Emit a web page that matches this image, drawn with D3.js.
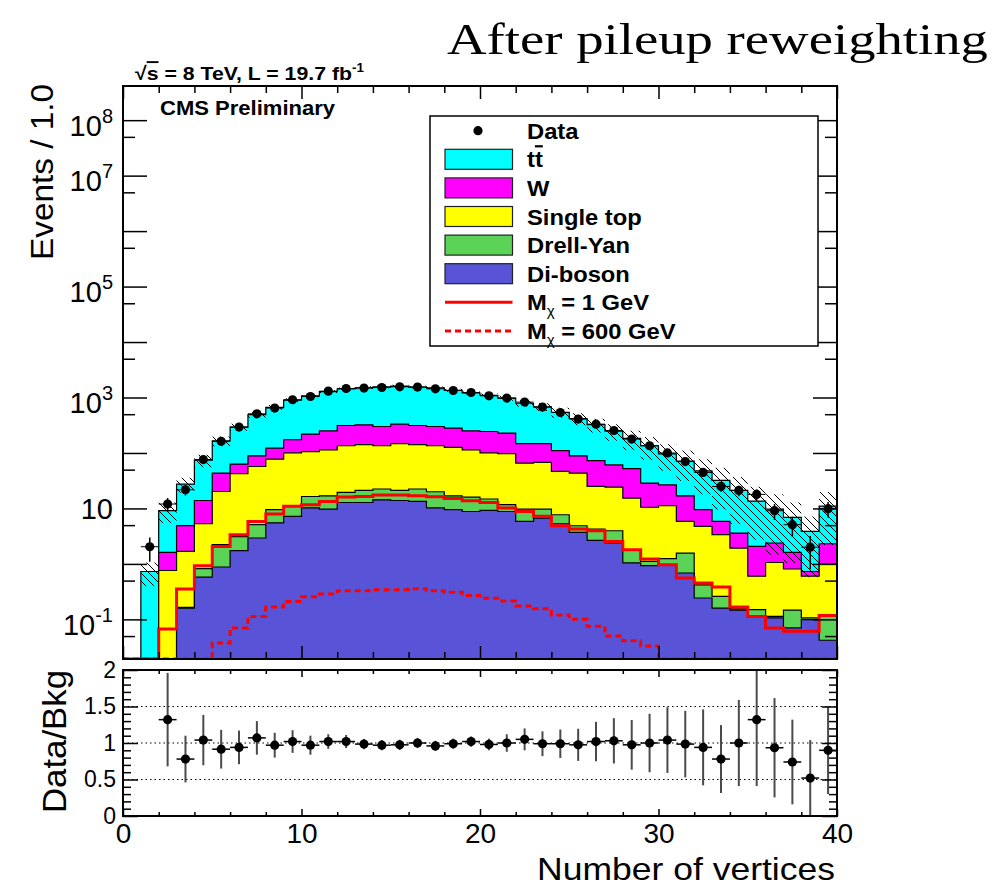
<!DOCTYPE html>
<html lang="en">
<head>
    <meta charset="UTF-8">
    <title>Number of vertices after pileup reweighting</title>
    <script src="https://d3js.org/d3.v7.min.js"></script>
    <style>
        html, body { margin: 0; background: #fff; }
        svg { display: block; }
        text { font-family: "Liberation Sans", Arial, Helvetica, sans-serif; }
    </style>
</head>
<body>
<div id="vis"></div>
<script>
    // lower edges of the 40 bins (bin width 1.0)
    var binLow = [0, 1, 2, 3, 4, 5, 6, 7, 8, 9, 10, 11, 12, 13, 14, 15, 16, 17, 18, 19,
                  20, 21, 22, 23, 24, 25, 26, 27, 28, 29, 30, 31, 32, 33, 34, 35, 36, 37, 38, 39];

    // stacked backgrounds, events per bin
    var ttbar     = [0, 0.73, 7.49, 22.6, 60.1, 121.6, 230, 401, 543, 727, 855, 1026, 1111, 1178, 1262, 1269, 1227, 1195, 1069, 955,
                     851, 747, 640, 531, 432, 329, 252, 186, 131, 106.4, 69.3, 54.1, 37.9, 26.16, 17.5, 11.53, 7.32, 5.29, 3.12, 8.69];
    var wjets     = [0, 0, 0.85, 3.2, 8.6, 23.2, 20.8, 32, 44.4, 73, 113, 137, 178, 181, 165, 184, 172, 165, 155, 137,
                     144, 131, 81.2, 79.5, 63.5, 45.6, 48.1, 36.7, 36.6, 18.1, 15.5, 11.06, 4.76, 2.48, 1.67, 1.47, 1.32, 0.8, 0.13, 1.31];
    var singleTop = [0, 0, 0.76, 1.52, 4.48, 18.0, 39.1, 51.9, 68.1, 88.8, 89.6, 97.1, 115.6, 119.9, 112.6, 125.9, 118.6, 115, 109.1, 98,
                     85.2, 85.3, 56.05, 57.75, 38.8, 38.53, 20.65, 20.34, 13.6, 9.39, 9.95, 4.27, 4.32, 3.1, 1.776, 0.45, 0.947, 0.663, 0.494, 0.883];
    var drellYan  = [0, 0, 0, 0.005, 0.24, 1.34, 1.37, 2.17, 4.0, 4.0, 6.2, 7.15, 6.6, 8.3, 8.1, 7.2, 9.0, 9.8, 7.4, 7.2,
                     5.6, 2.9, 3.92, 3.05, 2.4, 1.17, 1.6, 1.58, 0.76, 0.18, 0.28, 0.885, 0.177, 0.1, 0.007, 0.037, 0.007, 0.077, 0.007, 0.075];
    var diboson   = [0, 0, 0, 0.16, 0.58, 0.88, 1.73, 2.93, 5.5, 7.2, 10.2, 9.75, 12.8, 12.8, 14.3, 13.9, 13.4, 10.2, 9.5, 8.8,
                     9.2, 8.8, 5.83, 6.7, 5.3, 3.7, 2.65, 2.38, 1.04, 0.93, 0.97, 0.685, 0.243, 0.16, 0.147, 0.113, 0.106, 0.070, 0.099, 0.042];
    // relative uncertainty of the background sum (hatched band)
    var bkgRelErr = [0, 0.45, 0.4, 0.3, 0.25, 0.2, 0.15, 0.12, 0.1, 0.08, 0.06, 0.06, 0.06, 0.06, 0.06, 0.06, 0.06, 0.06, 0.06, 0.06,
                     0.08, 0.1, 0.13, 0.16, 0.2, 0.24, 0.28, 0.33, 0.38, 0.44, 0.5, 0.56, 0.62, 0.7, 0.75, 0.8, 0.85, 0.85, 0.85, 0.8];

    var data    = [0, 2.04, 12.0, 21.7, 76, 162, 293, 508, 645, 910, 1042, 1303, 1452, 1477, 1515, 1560, 1540, 1435, 1337, 1230,
                   1073, 975, 826, 671, 537, 408, 331, 254, 178, 135, 100, 70, 44.6, 24.9, 21.1, 17.9, 9.1, 5.1, 2.0, 9.9];
    var dataErr = [0, 0.95, 3.4, 4.6, 8.7, 12.7, 17.1, 22.5, 25.4, 30.2, 32.3, 36.1, 38.1, 38.4, 38.9, 39.5, 39.2, 37.9, 36.6, 35.1,
                   32.8, 31.2, 28.7, 25.9, 23.2, 20.2, 18.2, 15.9, 13.3, 11.6, 10.0, 8.4, 6.7, 5.0, 4.6, 4.2, 2.9, 2.0, 1.2, 3.1];

    // signal shapes (not stacked)
    var sigM1   = [0, 0, 0.067, 0.353, 0.93, 2.07, 3.36, 5.8, 7.9, 10.9, 11.7, 13.4, 16.0, 16.4, 17.4, 17.4, 16.9, 16.2, 15.1, 13.8,
                   12.8, 10.2, 8.8, 7.2, 4.87, 4.25, 3.96, 2.54, 1.8, 1.22, 0.97, 0.557, 0.453, 0.384, 0.167, 0.113, 0.070, 0.061, 0.061, 0.117];
    var sigM600 = [0, 0, 0, 0, 0, 0.0376, 0.070, 0.113, 0.167, 0.211, 0.255, 0.287, 0.329, 0.329, 0.343, 0.343, 0.357, 0.329, 0.307, 0.27,
                   0.24, 0.215, 0.175, 0.155, 0.12, 0.1, 0.075, 0.05, 0.041, 0.033, 0, 0, 0, 0, 0, 0, 0, 0, 0, 0];

    // ratio panel
    var ratio    = [null, null, 1.32, 0.78, 1.04, 0.915, 0.94, 1.07, 0.97, 1.02, 0.97, 1.02, 1.02, 0.985, 0.97, 0.975, 1.0, 0.96, 0.99, 1.02,
                    0.98, 1.0, 1.05, 0.99, 0.99, 0.975, 1.02, 1.03, 0.975, 1.0, 1.04, 0.985, 0.94, 0.78, 1.0, 1.32, 0.935, 0.74, 0.52, 0.90];
    var ratioErr = [null, null, 0.64, 0.32, 0.345, 0.265, 0.23, 0.23, 0.17, 0.155, 0.13, 0.1, 0.09, 0.07, 0.07, 0.07, 0.07, 0.07, 0.07, 0.07,
                    0.08, 0.12, 0.15, 0.17, 0.195, 0.22, 0.27, 0.31, 0.34, 0.40, 0.45, 0.455, 0.52, 0.465, 0.59, 0.91, 0.68, 0.58, 0.52, 0.6];

    var xMajor = [0, 10, 20, 30, 40];
    var yDecades = [1e-1, 1, 1e1, 1e2, 1e3, 1e4, 1e5, 1e6, 1e7, 1e8];
    var yHalves  = [5e-2, 5e-1, 5, 5e1, 5e2, 5e3, 5e4, 5e5, 5e6, 5e7];
    var yLabelVals = [1e-1, 1e1, 1e3, 1e5, 1e7, 1e8];
    var yLabelExp  = ['-1', '', '3', '5', '7', '8'];
    var rMajor = [0, 0.5, 1, 1.5, 2];
    var rGrid  = [0.5, 1, 1.5];

    var legendItems = [
        {key: 'data',      label: 'Data'},
        {key: 'ttbar',     label: 'tt', color: '#00ffff'},
        {key: 'wjets',     label: 'W', color: '#ff00ff'},
        {key: 'singleTop', label: 'Single top', color: '#ffff00'},
        {key: 'drellYan',  label: 'Drell-Yan', color: '#5ad357'},
        {key: 'diboson',   label: 'Di-boson', color: '#5953d7'},
        {key: 'sigM1',     label: ' = 1 GeV'},
        {key: 'sigM600',   label: ' = 600 GeV'}
    ];
    var colorOf = {};
    legendItems.forEach(function(d){ if (d.color) colorOf[d.key] = d.color; });

    /*
     *  LAYOUT
     */
    var W = 996, H = 888;
    var frame  = {left: 123, right: 837, top: 86, bottom: 659};
    var rframe = {top: 670, bottom: 816};

    var svg = d3.select('#vis').append('svg')
        .attr('width', W)
        .attr('height', H);

    var x  = d3.scaleLinear().domain([0, 40]).range([frame.left, frame.right]);
    var y  = d3.scaleLog().domain([0.0193, 4.13e8]).range([frame.bottom, frame.top]);
    var yr = d3.scaleLinear().domain([0, 2]).range([rframe.bottom, rframe.top]);
    var yMin = y.domain()[0];
    function yc(v) { return y(Math.max(v, yMin)); }

    var defs = svg.append('defs');
    defs.append('clipPath').attr('id', 'clipTop')
        .append('rect')
        .attr('x', frame.left).attr('y', frame.top)
        .attr('width', frame.right - frame.left).attr('height', frame.bottom - frame.top);
    defs.append('clipPath').attr('id', 'clipBot')
        .append('rect')
        .attr('x', frame.left).attr('y', rframe.top)
        .attr('width', frame.right - frame.left).attr('height', rframe.bottom - rframe.top);
    var hatch = defs.append('pattern').attr('id', 'hatch')
        .attr('patternUnits', 'userSpaceOnUse')
        .attr('width', 8).attr('height', 8);
    hatch.append('path')
        .attr('d', 'M0,0 L8,8 M-2,6 L2,10 M6,-2 L10,2')
        .attr('stroke', '#000').attr('stroke-width', 1);

    function stepPoints(vals) {
        var pts = binLow.map(function(b, i){ return [b, vals[i]]; });
        pts.push([binLow[binLow.length - 1] + 1, vals[vals.length - 1]]);
        return pts;
    }
    var stepArea = d3.area().curve(d3.curveStepAfter)
        .x(function(d){ return x(d[0]); })
        .y0(frame.bottom)
        .y1(function(d){ return yc(d[1]); });
    var stepLine = d3.line().curve(d3.curveStepAfter)
        .x(function(d){ return x(d[0]); })
        .y(function(d){ return yc(d[1]); });

    /*
     *  UPPER PANEL
     */
    var plot = svg.append('g').attr('clip-path', 'url(#clipTop)');

    var keys = ['diboson', 'drellYan', 'singleTop', 'wjets', 'ttbar'];
    var series = {diboson: diboson, drellYan: drellYan, singleTop: singleTop, wjets: wjets, ttbar: ttbar};
    var rows = binLow.map(function(b, i){
        var r = {bin: b};
        keys.forEach(function(k){ r[k] = series[k][i]; });
        return r;
    });
    var stacked = d3.stack().keys(keys)(rows);

    // draw cumulative histograms from the largest down (ROOT THStack style)
    stacked.slice().reverse().forEach(function(layer){
        var tops = layer.map(function(d){ return d[1]; });
        plot.append('path')
            .attr('d', stepArea(stepPoints(tops)))
            .attr('fill', colorOf[layer.key])
            .attr('stroke', '#000')
            .attr('stroke-width', 1.2);
    });

    // uncertainty band on the sum
    var total = stacked[stacked.length - 1].map(function(d){ return d[1]; });
    var bandPts = binLow.map(function(b, i){ return [b, total[i] * (1 - bkgRelErr[i]), total[i] * (1 + bkgRelErr[i])]; });
    bandPts.push([40, bandPts[39][1], bandPts[39][2]]);
    plot.append('path')
        .attr('d', d3.area().curve(d3.curveStepAfter)
            .x(function(d){ return x(d[0]); })
            .y0(function(d){ return yc(d[1]); })
            .y1(function(d){ return yc(d[2]); })(bandPts))
        .attr('fill', 'url(#hatch)');

    // signals
    plot.append('path')
        .attr('d', stepLine(stepPoints(sigM1)))
        .attr('fill', 'none').attr('stroke', '#ff0000').attr('stroke-width', 3);
    plot.append('path')
        .attr('d', stepLine(stepPoints(sigM600)))
        .attr('fill', 'none').attr('stroke', '#ff0000').attr('stroke-width', 3)
        .attr('stroke-dasharray', '6,4');

    // data
    var pts = binLow.map(function(b, i){ return {b: b, v: data[i], e: dataErr[i]}; })
        .filter(function(d){ return d.v > 0; });
    var dg = plot.append('g');
    dg.selectAll('.xerr').data(pts).enter().append('line')
        .attr('x1', function(d){ return x(d.b); })
        .attr('x2', function(d){ return x(d.b + 1); })
        .attr('y1', function(d){ return y(d.v); })
        .attr('y2', function(d){ return y(d.v); })
        .attr('stroke', '#000').attr('stroke-width', 1);
    dg.selectAll('.yerr').data(pts).enter().append('line')
        .attr('x1', function(d){ return x(d.b + 0.5); })
        .attr('x2', function(d){ return x(d.b + 0.5); })
        .attr('y1', function(d){ return yc(d.v - d.e); })
        .attr('y2', function(d){ return yc(d.v + d.e); })
        .attr('stroke', '#000').attr('stroke-width', 1.5);
    dg.selectAll('circle').data(pts).enter().append('circle')
        .attr('cx', function(d){ return x(d.b + 0.5); })
        .attr('cy', function(d){ return y(d.v); })
        .attr('r', 4.6)
        .attr('fill', '#000');

    /*
     *  AXES (ticks point inwards, ROOT style)
     */
    function tickAxis(axis, tx, ty) {
        var g = svg.append('g').attr('transform', 'translate(' + tx + ',' + ty + ')').call(axis);
        g.select('.domain').remove();
        g.selectAll('text').remove();
        g.selectAll('line').attr('stroke', '#000').attr('stroke-width', 1.5);
        return g;
    }
    var xMinor = d3.range(0, 41, 2).filter(function(v){ return v % 10 !== 0; });

    tickAxis(d3.axisBottom(x).tickValues(xMajor).tickSize(-13), 0, frame.bottom);
    tickAxis(d3.axisBottom(x).tickValues(xMinor).tickSize(-7), 0, frame.bottom);
    tickAxis(d3.axisTop(x).tickValues(xMajor).tickSize(-13), 0, frame.top);
    tickAxis(d3.axisTop(x).tickValues(xMinor).tickSize(-7), 0, frame.top);
    tickAxis(d3.axisLeft(y).tickValues(yDecades).tickSize(-24), frame.left, 0);
    tickAxis(d3.axisLeft(y).tickValues(yHalves).tickSize(-12), frame.left, 0);
    tickAxis(d3.axisRight(y).tickValues(yDecades).tickSize(-24), frame.right, 0);
    tickAxis(d3.axisRight(y).tickValues(yHalves).tickSize(-12), frame.right, 0);

    var gyl = svg.append('g').attr('transform', 'translate(' + frame.left + ',0)')
        .call(d3.axisLeft(y).tickValues(yLabelVals).tickSize(0).tickPadding(10).tickFormat(''));
    gyl.select('.domain').remove();
    gyl.attr('font-family', null).attr('font-size', null);
    gyl.selectAll('.tick text').each(function(d, i){
        var t = d3.select(this).text(null).attr('font-size', 29).attr('fill', '#000');
        t.attr('dy', yLabelExp[i] ? 15 : 10);
        t.append('tspan').text('10');
        if (yLabelExp[i]) {
            t.append('tspan').attr('font-size', 20).attr('dy', -13).text(yLabelExp[i]);
        }
    });

    svg.append('rect')
        .attr('x', frame.left).attr('y', frame.top)
        .attr('width', frame.right - frame.left).attr('height', frame.bottom - frame.top)
        .attr('fill', 'none').attr('stroke', '#000').attr('stroke-width', 2);

    /*
     *  LOWER PANEL
     */
    var rp = svg.append('g');
    rGrid.forEach(function(v){
        rp.append('line')
            .attr('x1', frame.left).attr('x2', frame.right)
            .attr('y1', yr(v)).attr('y2', yr(v))
            .attr('stroke', '#000').attr('stroke-width', 1)
            .attr('stroke-dasharray', '1.5,3');
    });
    var rpts = binLow.map(function(b, i){ return {b: b, r: ratio[i], e: ratioErr[i]}; })
        .filter(function(d){ return d.r !== null; });
    var rg = rp.append('g').attr('clip-path', 'url(#clipBot)');
    rg.selectAll('.yerr').data(rpts).enter().append('line')
        .attr('x1', function(d){ return x(d.b + 0.5); })
        .attr('x2', function(d){ return x(d.b + 0.5); })
        .attr('y1', function(d){ return yr(d.r - d.e); })
        .attr('y2', function(d){ return yr(d.r + d.e); })
        .attr('stroke', '#4a4a4a').attr('stroke-width', 2);
    rg.selectAll('.xerr').data(rpts).enter().append('line')
        .attr('x1', function(d){ return x(d.b); })
        .attr('x2', function(d){ return x(d.b + 1); })
        .attr('y1', function(d){ return yr(d.r); })
        .attr('y2', function(d){ return yr(d.r); })
        .attr('stroke', '#000').attr('stroke-width', 1.5);
    rg.selectAll('circle').data(rpts).enter().append('circle')
        .attr('cx', function(d){ return x(d.b + 0.5); })
        .attr('cy', function(d){ return yr(d.r); })
        .attr('r', 4.6)
        .attr('fill', '#000');

    var rMinor = d3.range(0, 2.001, 0.1).filter(function(v){ return Math.abs(v * 2 - Math.round(v * 2)) > 1e-6; });
    tickAxis(d3.axisBottom(x).tickValues(xMajor).tickSize(-7), 0, rframe.bottom);
    tickAxis(d3.axisBottom(x).tickValues(xMinor).tickSize(-4), 0, rframe.bottom);
    tickAxis(d3.axisTop(x).tickValues(xMajor).tickSize(-7), 0, rframe.top);
    tickAxis(d3.axisTop(x).tickValues(xMinor).tickSize(-4), 0, rframe.top);
    tickAxis(d3.axisLeft(yr).tickValues(rMajor).tickSize(-15), frame.left, 0);
    tickAxis(d3.axisLeft(yr).tickValues(rMinor).tickSize(-8), frame.left, 0);
    tickAxis(d3.axisRight(yr).tickValues(rMajor).tickSize(-15), frame.right, 0);
    tickAxis(d3.axisRight(yr).tickValues(rMinor).tickSize(-8), frame.right, 0);

    var grl = svg.append('g').attr('transform', 'translate(' + frame.left + ',0)')
        .call(d3.axisLeft(yr).tickValues(rMajor).tickSize(0).tickPadding(7).tickFormat(d3.format('')));
    grl.select('.domain').remove();
    grl.attr('font-family', null).attr('font-size', 23);
    grl.selectAll('text').attr('fill', '#000');

    var gxl = svg.append('g').attr('transform', 'translate(0,' + rframe.bottom + ')')
        .call(d3.axisBottom(x).tickValues(xMajor).tickSize(0).tickPadding(7).tickFormat(d3.format('d')));
    gxl.select('.domain').remove();
    gxl.attr('font-family', null).attr('font-size', 28);
    gxl.selectAll('text').attr('fill', '#000');

    svg.append('rect')
        .attr('x', frame.left).attr('y', rframe.top)
        .attr('width', frame.right - frame.left).attr('height', rframe.bottom - rframe.top)
        .attr('fill', 'none').attr('stroke', '#000').attr('stroke-width', 2);

    /*
     *  TITLES
     */
    svg.append('text')
        .attr('x', 447).attr('y', 54)
        .attr('font-family', '"Liberation Serif", "Times New Roman", serif')
        .style('font-family', '"Liberation Serif", "Times New Roman", serif')
        .attr('font-size', 44)
        .attr('textLength', 541).attr('lengthAdjust', 'spacingAndGlyphs')
        .text('After pileup reweighting');

    svg.append('text')
        .attr('x', 537).attr('y', 880)
        .attr('font-size', 32)
        .attr('textLength', 298).attr('lengthAdjust', 'spacingAndGlyphs')
        .text('Number of vertices');

    svg.append('text')
        .attr('transform', 'translate(53,84) rotate(-90)')
        .attr('text-anchor', 'end')
        .attr('font-size', 32)
        .attr('textLength', 176).attr('lengthAdjust', 'spacingAndGlyphs')
        .text('Events / 1.0');

    svg.append('text')
        .attr('transform', 'translate(66,670) rotate(-90)')
        .attr('text-anchor', 'end')
        .attr('font-size', 33)
        .attr('textLength', 143).attr('lengthAdjust', 'spacingAndGlyphs')
        .text('Data/Bkg');

    var lumi = svg.append('text')
        .attr('transform', 'translate(135,80) scale(1.12,1)')
        .attr('font-size', 19).attr('font-weight', 'bold');
    lumi.append('tspan').text('\u221A');
    lumi.append('tspan').style('text-decoration', 'overline').text('s');
    lumi.append('tspan').text(' = 8 TeV, L = 19.7 fb');
    lumi.append('tspan').attr('font-size', 12).attr('dy', -8).text('-1');

    svg.append('text')
        .attr('transform', 'translate(160,115) scale(1.05,1)')
        .attr('font-size', 21).attr('font-weight', 'bold')
        .text('CMS Preliminary');

    /*
     *  LEGEND
     */
    var leg = {x: 430, y: 116, w: 388, h: 230, row: 28.6};
    svg.append('rect')
        .attr('x', leg.x).attr('y', leg.y).attr('width', leg.w).attr('height', leg.h)
        .attr('fill', '#fff').attr('stroke', '#000').attr('stroke-width', 1.5);

    legendItems.forEach(function(d, i){
        var cy = leg.y + 14.7 + i * leg.row;
        var g = svg.append('g');
        if (d.key === 'data') {
            g.append('circle').attr('cx', 478).attr('cy', cy).attr('r', 4.6).attr('fill', '#000');
        } else if (d.color) {
            g.append('rect').attr('x', 445).attr('y', cy - 10).attr('width', 67.5).attr('height', 20)
                .attr('fill', d.color).attr('stroke', '#222').attr('stroke-width', 1.2);
        } else {
            g.append('line').attr('x1', 445).attr('x2', 512.5).attr('y1', cy).attr('y2', cy)
                .attr('stroke', '#ff0000').attr('stroke-width', 3)
                .attr('stroke-dasharray', d.key === 'sigM600' ? '6,4' : null);
        }
        var t = g.append('text')
            .attr('transform', 'translate(527,' + (cy + 8) + ') scale(1.08,1)')
            .attr('font-size', 22).attr('font-weight', 'bold');
        if (d.key === 'ttbar') {
            t.append('tspan').text('t');
            t.append('tspan').style('text-decoration', 'overline').text('t');
        } else if (d.key === 'sigM1' || d.key === 'sigM600') {
            t.append('tspan').text('M');
            t.append('tspan').attr('font-size', 14).attr('font-weight', 'normal').attr('dy', 6).text('\u03C7');
            t.append('tspan').attr('dy', -6).text(d.label);
        } else {
            t.text(d.label);
        }
    });
</script>
</body>
</html>
